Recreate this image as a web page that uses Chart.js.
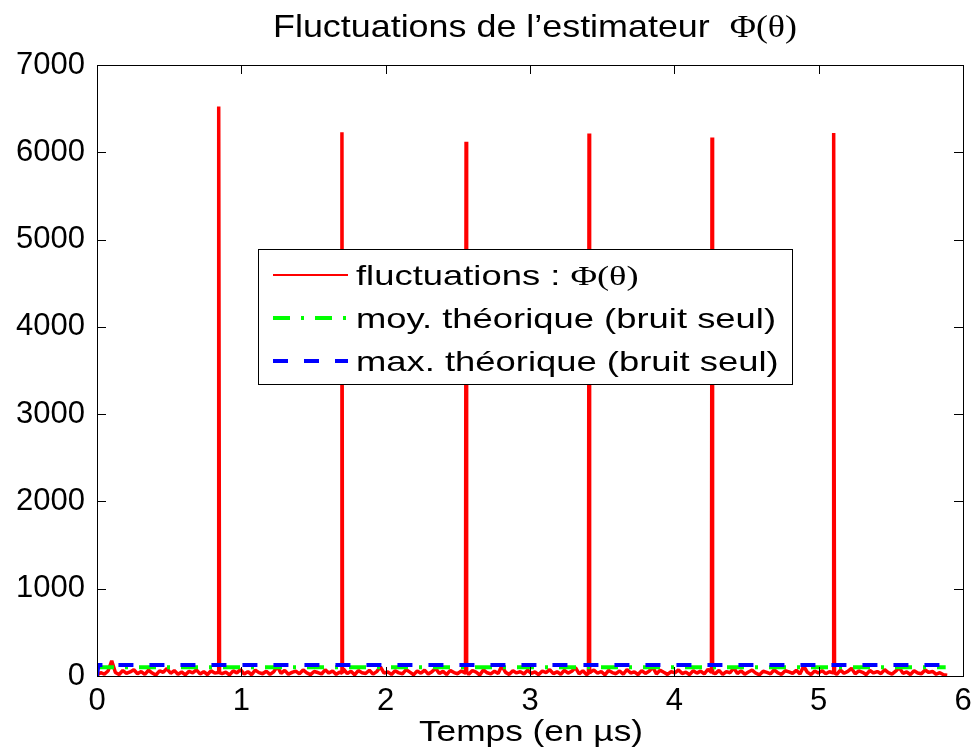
<!DOCTYPE html>
<html>
<head>
<meta charset="utf-8">
<script src="https://cdn.jsdelivr.net/npm/chart.js@4"></script>
<style>
  body { margin: 0; background: #fff; }
  #wrap { width: 979px; height: 751px; position: relative; }
</style>
</head>
<body>
<div id="wrap"><canvas id="fluctChart"></canvas></div>
<script>
// sample spacing of the noise floor (in µs)
const timeStep = 0.0255;

// noise floor of Phi(theta)
const fluctNoise = [
  12, 38, 22, 57, 175, 41, 18, 63, 29, 47, 72, 26, 51, 19, 66, 34, 11, 58, 43, 85,
  31, 62, 21, 46, 14, 53, 37, 70, 24, 49, 17, 61, 33, 95, 28, 44, 13, 59, 36, 74,
  22, 50, 15, 67, 39, 26, 55, 18, 48, 110, 30, 64, 20, 42, 57, 25, 69, 35, 16, 52,
  40, 23, 71, 33, 58, 19, 45, 80, 27, 54, 14, 62, 38, 29, 66, 21, 50, 105, 32, 47,
  18, 60, 36, 25, 73, 44, 15, 56, 31, 68, 22, 49, 90, 28, 53, 17, 64, 39, 26, 58,
  34, 20, 63, 45, 12, 70, 37, 24, 55, 30, 118, 41, 19, 61, 35, 50, 23, 67, 29, 46,
  16, 57, 38, 72, 27, 48, 21, 65, 33, 54, 96, 25, 60, 18, 44, 69, 31, 52, 14, 63,
  39, 26, 58, 20, 74, 35, 47, 17, 62, 30, 55, 100, 24, 66, 42, 19, 51, 36, 70, 28,
  45, 15, 61, 33, 56, 23, 78, 40, 27, 64, 18, 50, 37, 92, 29, 59, 21, 46, 68, 32,
  14, 54, 41, 25, 71, 36, 19, 60, 48, 30, 65, 22, 112, 43, 17, 57, 34, 62, 26, 49,
  37, 20, 67, 31, 53, 88, 24, 58, 42, 16, 63, 35, 51, 27, 73, 39, 22, 56, 94, 30,
  46, 18, 60, 34, 25, 69, 41, 52, 20, 38, 15, 10
];

// the six peaks
const spikeTimes = [0.845, 1.697, 2.557, 3.409, 4.261, 5.106];
const spikePeaks = [6525, 6230, 6120, 6215, 6170, 6220];
const spikeBase = [40, 35, 45, 30, 40, 35];

// theoretical levels (noise only)
const meanTimes = [0, 5.88];
const meanLevel = [100, 100];
const maxTimes = [0, 0.01, 5.86];
const maxLevel = [0, 125, 125];

const xTicks = [0, 1, 2, 3, 4, 5, 6];
const yTicks = [0, 1000, 2000, 3000, 4000, 5000, 6000, 7000];

const SANS = '"Liberation Sans", Arial, sans-serif';
const SERIF = '"Liberation Serif", "Times New Roman", serif';

// build the red curve
const fluctPoints = fluctNoise.map((v, i) => ({ x: i * timeStep, y: v }));
spikeTimes.forEach((t, i) => {
  fluctPoints.push({ x: t - 0.004, y: spikeBase[i] });
  fluctPoints.push({ x: t, y: spikePeaks[i] });
  fluctPoints.push({ x: t + 0.004, y: spikeBase[i] });
});
fluctPoints.sort((a, b) => a.x - b.x);

const meanPoints = meanTimes.map((t, i) => ({ x: t, y: meanLevel[i] }));
const maxPoints = maxTimes.map((t, i) => ({ x: t, y: maxLevel[i] }));

// draws text made of several font parts, squeezed/stretched horizontally
function partsWidth(ctx, parts, size) {
  let w = 0;
  parts.forEach(p => {
    ctx.font = size + 'px ' + (p.serif ? SERIF : SANS);
    w += ctx.measureText(p.t).width;
  });
  return w;
}

function drawParts(ctx, parts, x, y, size, stretch, align) {
  const w = partsWidth(ctx, parts, size) * stretch;
  const startX = align === 'center' ? x - w / 2 : x;
  ctx.save();
  ctx.translate(startX, y);
  ctx.scale(stretch, 1);
  ctx.fillStyle = '#000';
  ctx.textAlign = 'left';
  ctx.textBaseline = 'alphabetic';
  let cx = 0;
  parts.forEach(p => {
    ctx.font = size + 'px ' + (p.serif ? SERIF : SANS);
    ctx.fillText(p.t, cx, 0);
    cx += ctx.measureText(p.t).width;
  });
  ctx.restore();
}

const matlabFrame = {
  id: 'matlabFrame',
  afterDraw(chart) {
    const ctx = chart.ctx;
    const area = chart.chartArea;
    const xs = chart.scales.x;
    const ys = chart.scales.y;
    const tickLen = 9;

    ctx.save();
    ctx.strokeStyle = '#000';
    ctx.lineWidth = 1;
    ctx.strokeRect(area.left + 0.5, area.top + 0.5, area.right - area.left, area.bottom - area.top);

    ctx.beginPath();
    xTicks.forEach(v => {
      const px = Math.round(xs.getPixelForValue(v)) + 0.5;
      ctx.moveTo(px, area.bottom);
      ctx.lineTo(px, area.bottom - tickLen);
      ctx.moveTo(px, area.top);
      ctx.lineTo(px, area.top + tickLen);
    });
    yTicks.forEach(v => {
      const py = Math.round(ys.getPixelForValue(v)) + 0.5;
      ctx.moveTo(area.left, py);
      ctx.lineTo(area.left + tickLen, py);
      ctx.moveTo(area.right, py);
      ctx.lineTo(area.right - tickLen, py);
    });
    ctx.stroke();

    // title
    const titleParts = [{ t: 'Fluctuations de l\u2019estimateur  ' }, { t: '\u03A6(\u03B8)', serif: true }];
    const titleW = partsWidth(ctx, titleParts, 32);
    drawParts(ctx, titleParts, 535, 37, 32, 524 / titleW, 'center');

    // x axis label
    const xlab = [{ t: 'Temps (en \u00B5s)' }];
    const xlabW = partsWidth(ctx, xlab, 29);
    drawParts(ctx, xlab, 531, 741, 29, 224 / xlabW, 'center');

    // legend box
    const lx = 258, ly = 249, lw = 534, lh = 135;
    ctx.fillStyle = '#fff';
    ctx.fillRect(lx, ly, lw, lh);
    ctx.strokeStyle = '#000';
    ctx.lineWidth = 1;
    ctx.setLineDash([]);
    ctx.strokeRect(lx + 0.5, ly + 0.5, lw, lh);

    const rows = [
      [{ t: chart.data.datasets[0].label }, { t: '\u03A6(\u03B8)', serif: true }],
      [{ t: chart.data.datasets[1].label }],
      [{ t: chart.data.datasets[2].label }]
    ];
    const legendStretch = 420 / partsWidth(ctx, rows[1], 28);
    const rowY = [275, 318, 361];
    const lineW = [2, 4, 4];
    chart.data.datasets.forEach((ds, i) => {
      ctx.save();
      ctx.strokeStyle = ds.borderColor;
      ctx.lineWidth = lineW[i];
      ctx.setLineDash(ds.borderDash || []);
      ctx.beginPath();
      ctx.moveTo(273, rowY[i]);
      ctx.lineTo(348, rowY[i]);
      ctx.stroke();
      ctx.restore();
      drawParts(ctx, rows[i], 356, rowY[i] + 10, 28, legendStretch, 'left');
    });
    ctx.restore();
  }
};

new Chart(document.getElementById('fluctChart'), {
  type: 'line',
  data: {
    datasets: [
      {
        label: 'fluctuations : ',
        data: fluctPoints,
        borderColor: '#ff0000',
        borderWidth: 3.5,
        borderJoinStyle: 'bevel',
        pointRadius: 0,
        tension: 0,
        order: 3
      },
      {
        label: 'moy. th\u00E9orique (bruit seul)',
        data: meanPoints,
        borderColor: '#00ff00',
        borderWidth: 4,
        borderDash: [17, 11, 3, 11],
        pointRadius: 0,
        order: 2
      },
      {
        label: 'max. th\u00E9orique (bruit seul)',
        data: maxPoints,
        borderColor: '#0000ff',
        borderWidth: 4,
        borderDash: [15, 16],
        pointRadius: 0,
        order: 1
      }
    ]
  },
  options: {
    responsive: true,
    maintainAspectRatio: false,
    animation: false,
    layout: { padding: { top: 65, right: 16, left: 0, bottom: 0 } },
    plugins: {
      legend: { display: false },
      tooltip: { enabled: false }
    },
    scales: {
      x: {
        type: 'linear',
        min: 0,
        max: 6,
        grid: { display: false, drawTicks: false },
        border: { display: false },
        ticks: {
          stepSize: 1,
          padding: 7,
          color: '#000',
          font: { family: SANS, size: 31 },
          callback: (v) => String(v)
        },
        afterFit: (s) => { s.height = 75; }
      },
      y: {
        min: 0,
        max: 7000,
        grid: { display: false, drawTicks: false },
        border: { display: false },
        ticks: {
          stepSize: 1000,
          padding: 12,
          color: '#000',
          font: { family: SANS, size: 31 },
          callback: (v) => String(v)
        },
        afterFit: (s) => { s.width = 97; }
      }
    }
  },
  plugins: [matlabFrame]
});
</script>
</body>
</html>
